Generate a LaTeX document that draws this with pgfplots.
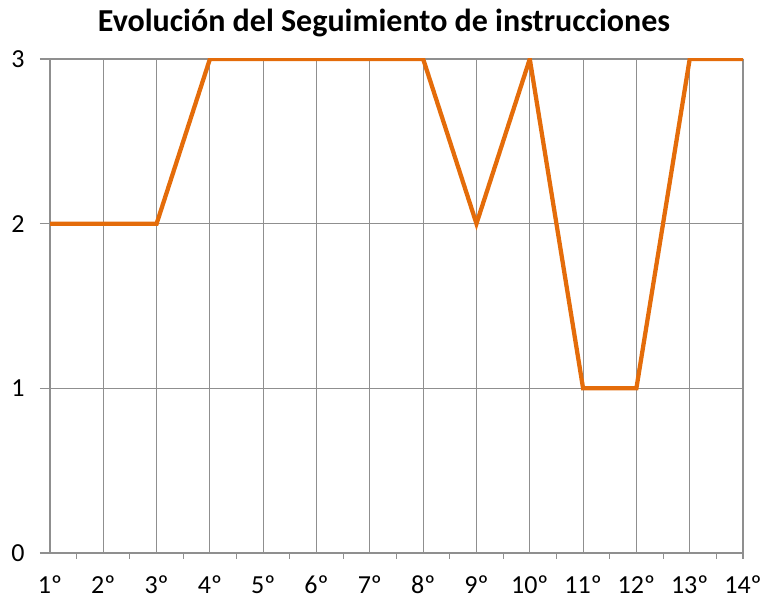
\documentclass[border=0pt]{standalone}
\usepackage{fontspec}
\setmainfont{Carlito}
\usepackage{pgfplots}
\pgfplotsset{compat=1.18}
\definecolor{orangeline}{HTML}{E46C0A}
\definecolor{gridgray}{HTML}{8F8F8F}
\begin{document}
\begin{tikzpicture}
\useasboundingbox (-37.5pt,-33.75pt) rectangle (534.75pt,414.75pt);
\begin{axis}[
  at={(0,0)}, anchor=south west,
  scale only axis, width=519.75pt, height=370.5pt,
  xmin=1, xmax=14, ymin=0, ymax=3,
  axis lines*=left,
  y axis line style={draw=none},
  x axis line style={draw=gridgray, line width=0.8pt},
  xtick={1,...,14},
  xticklabels={1º,2º,3º,4º,5º,6º,7º,8º,9º,10º,11º,12º,13º,14º},
  minor xtick={1.5,2.5,3.5,4.5,5.5,6.5,7.5,8.5,9.5,10.5,11.5,12.5,13.5,14},
  ytick={0,1,2,3},
  xmajorgrids, ymajorgrids,
  major grid style={draw=gridgray, line width=0.8pt},
  tick align=outside,
  xtick pos=bottom, ytick pos=left,
  major x tick style={draw=none},
  minor x tick style={draw=gridgray, line width=0.8pt},
  minor tick length=4.5pt,
  major y tick style={draw=gridgray, line width=0.8pt},
  major tick length=7.5pt,
  tick label style={font=\fontsize{19.5}{22}\selectfont, text=black},
  /pgf/number format/assume math mode=true,
  xticklabel style={yshift=-6pt},
  yticklabel style={xshift=-8pt},
  title={Evolución del Seguimiento de instrucciones},
  title style={font=\bfseries\fontsize{24}{28}\selectfont, at={(rel axis cs:0.482,1)}, anchor=center, yshift=21pt},
]
\addplot[orangeline, line width=3.2pt, line join=miter, mark=none] coordinates {
  (1,2) (2,2) (3,2) (4,3) (5,3) (6,3) (7,3) (8,3) (9,2) (10,3) (11,1) (12,1) (13,3) (14,3)
};
\end{axis}
\end{tikzpicture}
\end{document}
